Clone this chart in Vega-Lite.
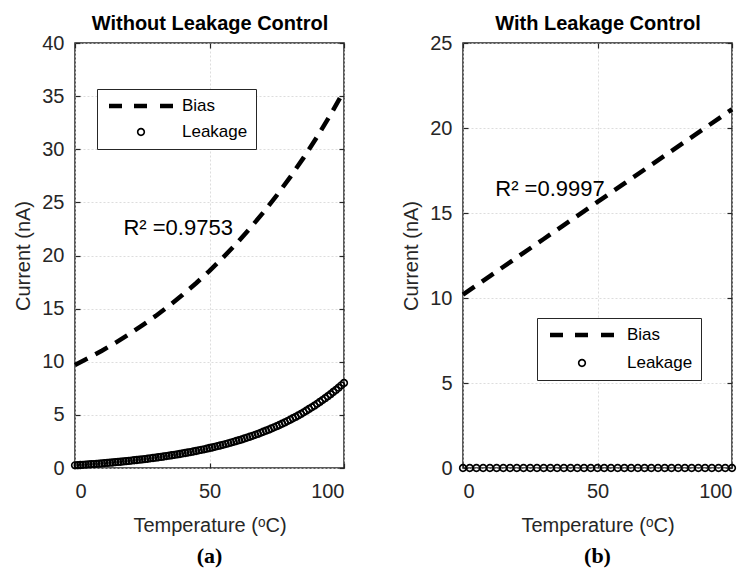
{
  "$schema": "https://vega.github.io/schema/vega-lite/v6.json",
  "background": "white",
  "padding": {"left": 13, "top": 12, "right": 2, "bottom": 3},
  "config": {
    "font": "Liberation Sans",
    "view": {"stroke": "#262626", "strokeWidth": 1.5},
    "axis": {
      "domain": false,
      "tickColor": "#262626",
      "tickSize": -5,
      "tickWidth": 1.2,
      "labelFont": "Liberation Sans",
      "labelFontSize": 20,
      "labelColor": "#262626",
      "titleFont": "Liberation Sans",
      "titleFontSize": 20,
      "titleFontWeight": "normal",
      "titleColor": "#262626",
      "gridColor": "#d4d4d4",
      "gridDash": [2, 2],
      "gridWidth": 0.8
    }
  },
  "datasets": {
    "leftBias": [
      {"t": 0, "c": 9.70, "s": "Bias"}, {"t": 5, "c": 10.35, "s": "Bias"}, {"t": 10, "c": 11.04, "s": "Bias"},
      {"t": 15, "c": 11.78, "s": "Bias"}, {"t": 20, "c": 12.57, "s": "Bias"}, {"t": 25, "c": 13.42, "s": "Bias"},
      {"t": 30, "c": 14.31, "s": "Bias"}, {"t": 35, "c": 15.27, "s": "Bias"}, {"t": 40, "c": 16.30, "s": "Bias"},
      {"t": 45, "c": 17.39, "s": "Bias"}, {"t": 50, "c": 18.55, "s": "Bias"}, {"t": 55, "c": 19.80, "s": "Bias"},
      {"t": 60, "c": 21.12, "s": "Bias"}, {"t": 65, "c": 22.54, "s": "Bias"}, {"t": 70, "c": 24.05, "s": "Bias"},
      {"t": 75, "c": 25.66, "s": "Bias"}, {"t": 80, "c": 27.38, "s": "Bias"}, {"t": 85, "c": 29.21, "s": "Bias"},
      {"t": 90, "c": 31.17, "s": "Bias"}, {"t": 95, "c": 33.26, "s": "Bias"}, {"t": 100, "c": 35.49, "s": "Bias"}
    ],
    "leftLeak": [
      {"t": 0, "c": 0.25, "s": "Leakage"}, {"t": 1, "c": 0.27, "s": "Leakage"}, {"t": 2, "c": 0.28, "s": "Leakage"},
      {"t": 3, "c": 0.30, "s": "Leakage"}, {"t": 4, "c": 0.32, "s": "Leakage"}, {"t": 5, "c": 0.34, "s": "Leakage"},
      {"t": 6, "c": 0.36, "s": "Leakage"}, {"t": 7, "c": 0.37, "s": "Leakage"}, {"t": 8, "c": 0.39, "s": "Leakage"},
      {"t": 9, "c": 0.41, "s": "Leakage"}, {"t": 10, "c": 0.43, "s": "Leakage"}, {"t": 11, "c": 0.46, "s": "Leakage"},
      {"t": 12, "c": 0.48, "s": "Leakage"}, {"t": 13, "c": 0.50, "s": "Leakage"}, {"t": 14, "c": 0.52, "s": "Leakage"},
      {"t": 15, "c": 0.55, "s": "Leakage"}, {"t": 16, "c": 0.57, "s": "Leakage"}, {"t": 17, "c": 0.59, "s": "Leakage"},
      {"t": 18, "c": 0.62, "s": "Leakage"}, {"t": 19, "c": 0.64, "s": "Leakage"}, {"t": 20, "c": 0.67, "s": "Leakage"},
      {"t": 21, "c": 0.70, "s": "Leakage"}, {"t": 22, "c": 0.73, "s": "Leakage"}, {"t": 23, "c": 0.75, "s": "Leakage"},
      {"t": 24, "c": 0.78, "s": "Leakage"}, {"t": 25, "c": 0.81, "s": "Leakage"}, {"t": 26, "c": 0.84, "s": "Leakage"},
      {"t": 27, "c": 0.87, "s": "Leakage"}, {"t": 28, "c": 0.91, "s": "Leakage"}, {"t": 29, "c": 0.94, "s": "Leakage"},
      {"t": 30, "c": 0.97, "s": "Leakage"}, {"t": 31, "c": 1.01, "s": "Leakage"}, {"t": 32, "c": 1.04, "s": "Leakage"},
      {"t": 33, "c": 1.08, "s": "Leakage"}, {"t": 34, "c": 1.12, "s": "Leakage"}, {"t": 35, "c": 1.16, "s": "Leakage"},
      {"t": 36, "c": 1.20, "s": "Leakage"}, {"t": 37, "c": 1.24, "s": "Leakage"}, {"t": 38, "c": 1.28, "s": "Leakage"},
      {"t": 39, "c": 1.32, "s": "Leakage"}, {"t": 40, "c": 1.37, "s": "Leakage"}, {"t": 41, "c": 1.41, "s": "Leakage"},
      {"t": 42, "c": 1.46, "s": "Leakage"}, {"t": 43, "c": 1.50, "s": "Leakage"}, {"t": 44, "c": 1.55, "s": "Leakage"},
      {"t": 45, "c": 1.60, "s": "Leakage"}, {"t": 46, "c": 1.66, "s": "Leakage"}, {"t": 47, "c": 1.71, "s": "Leakage"},
      {"t": 48, "c": 1.76, "s": "Leakage"}, {"t": 49, "c": 1.82, "s": "Leakage"}, {"t": 50, "c": 1.88, "s": "Leakage"},
      {"t": 51, "c": 1.93, "s": "Leakage"}, {"t": 52, "c": 1.99, "s": "Leakage"}, {"t": 53, "c": 2.06, "s": "Leakage"},
      {"t": 54, "c": 2.12, "s": "Leakage"}, {"t": 55, "c": 2.18, "s": "Leakage"}, {"t": 56, "c": 2.25, "s": "Leakage"},
      {"t": 57, "c": 2.32, "s": "Leakage"}, {"t": 58, "c": 2.39, "s": "Leakage"}, {"t": 59, "c": 2.46, "s": "Leakage"},
      {"t": 60, "c": 2.54, "s": "Leakage"}, {"t": 61, "c": 2.62, "s": "Leakage"}, {"t": 62, "c": 2.69, "s": "Leakage"},
      {"t": 63, "c": 2.78, "s": "Leakage"}, {"t": 64, "c": 2.86, "s": "Leakage"}, {"t": 65, "c": 2.94, "s": "Leakage"},
      {"t": 66, "c": 3.03, "s": "Leakage"}, {"t": 67, "c": 3.12, "s": "Leakage"}, {"t": 68, "c": 3.21, "s": "Leakage"},
      {"t": 69, "c": 3.31, "s": "Leakage"}, {"t": 70, "c": 3.41, "s": "Leakage"}, {"t": 71, "c": 3.51, "s": "Leakage"},
      {"t": 72, "c": 3.61, "s": "Leakage"}, {"t": 73, "c": 3.72, "s": "Leakage"}, {"t": 74, "c": 3.83, "s": "Leakage"},
      {"t": 75, "c": 3.94, "s": "Leakage"}, {"t": 76, "c": 4.05, "s": "Leakage"}, {"t": 77, "c": 4.17, "s": "Leakage"},
      {"t": 78, "c": 4.29, "s": "Leakage"}, {"t": 79, "c": 4.42, "s": "Leakage"}, {"t": 80, "c": 4.54, "s": "Leakage"},
      {"t": 81, "c": 4.68, "s": "Leakage"}, {"t": 82, "c": 4.81, "s": "Leakage"}, {"t": 83, "c": 4.95, "s": "Leakage"},
      {"t": 84, "c": 5.09, "s": "Leakage"}, {"t": 85, "c": 5.24, "s": "Leakage"}, {"t": 86, "c": 5.39, "s": "Leakage"},
      {"t": 87, "c": 5.55, "s": "Leakage"}, {"t": 88, "c": 5.71, "s": "Leakage"}, {"t": 89, "c": 5.87, "s": "Leakage"},
      {"t": 90, "c": 6.04, "s": "Leakage"}, {"t": 91, "c": 6.21, "s": "Leakage"}, {"t": 92, "c": 6.39, "s": "Leakage"},
      {"t": 93, "c": 6.57, "s": "Leakage"}, {"t": 94, "c": 6.76, "s": "Leakage"}, {"t": 95, "c": 6.95, "s": "Leakage"},
      {"t": 96, "c": 7.15, "s": "Leakage"}, {"t": 97, "c": 7.35, "s": "Leakage"}, {"t": 98, "c": 7.56, "s": "Leakage"},
      {"t": 99, "c": 7.78, "s": "Leakage"}, {"t": 100, "c": 8.00, "s": "Leakage"}
    ],
    "rightBias": [
      {"t": 0, "c": 10.20, "s": "Bias"}, {"t": 10, "c": 11.29, "s": "Bias"}, {"t": 20, "c": 12.38, "s": "Bias"},
      {"t": 30, "c": 13.47, "s": "Bias"}, {"t": 40, "c": 14.56, "s": "Bias"}, {"t": 50, "c": 15.65, "s": "Bias"},
      {"t": 60, "c": 16.74, "s": "Bias"}, {"t": 70, "c": 17.83, "s": "Bias"}, {"t": 80, "c": 18.92, "s": "Bias"},
      {"t": 90, "c": 20.01, "s": "Bias"}, {"t": 100, "c": 21.10, "s": "Bias"}
    ],
    "rightLeak": [
      {"t": 0, "c": 0, "s": "Leakage"}, {"t": 2.5, "c": 0, "s": "Leakage"}, {"t": 5, "c": 0, "s": "Leakage"},
      {"t": 7.5, "c": 0, "s": "Leakage"}, {"t": 10, "c": 0, "s": "Leakage"}, {"t": 12.5, "c": 0, "s": "Leakage"},
      {"t": 15, "c": 0, "s": "Leakage"}, {"t": 17.5, "c": 0, "s": "Leakage"}, {"t": 20, "c": 0, "s": "Leakage"},
      {"t": 22.5, "c": 0, "s": "Leakage"}, {"t": 25, "c": 0, "s": "Leakage"}, {"t": 27.5, "c": 0, "s": "Leakage"},
      {"t": 30, "c": 0, "s": "Leakage"}, {"t": 32.5, "c": 0, "s": "Leakage"}, {"t": 35, "c": 0, "s": "Leakage"},
      {"t": 37.5, "c": 0, "s": "Leakage"}, {"t": 40, "c": 0, "s": "Leakage"}, {"t": 42.5, "c": 0, "s": "Leakage"},
      {"t": 45, "c": 0, "s": "Leakage"}, {"t": 47.5, "c": 0, "s": "Leakage"}, {"t": 50, "c": 0, "s": "Leakage"},
      {"t": 52.5, "c": 0, "s": "Leakage"}, {"t": 55, "c": 0, "s": "Leakage"}, {"t": 57.5, "c": 0, "s": "Leakage"},
      {"t": 60, "c": 0, "s": "Leakage"}, {"t": 62.5, "c": 0, "s": "Leakage"}, {"t": 65, "c": 0, "s": "Leakage"},
      {"t": 67.5, "c": 0, "s": "Leakage"}, {"t": 70, "c": 0, "s": "Leakage"}, {"t": 72.5, "c": 0, "s": "Leakage"},
      {"t": 75, "c": 0, "s": "Leakage"}, {"t": 77.5, "c": 0, "s": "Leakage"}, {"t": 80, "c": 0, "s": "Leakage"},
      {"t": 82.5, "c": 0, "s": "Leakage"}, {"t": 85, "c": 0, "s": "Leakage"}, {"t": 87.5, "c": 0, "s": "Leakage"},
      {"t": 90, "c": 0, "s": "Leakage"}, {"t": 92.5, "c": 0, "s": "Leakage"}, {"t": 95, "c": 0, "s": "Leakage"},
      {"t": 97.5, "c": 0, "s": "Leakage"}, {"t": 100, "c": 0, "s": "Leakage"}
    ],
    "leftNote": [{"t": 18, "c": 21.9, "label": "R² =0.9753"}],
    "rightNote": [{"t": 12, "c": 16.0, "label": "R² =0.9997"}]
  },
  "resolve": {"scale": {"shape": "independent"}, "legend": {"shape": "independent"}},
  "spacing": 47,
  "hconcat": [
    {
      "title": {"text": "(a)", "orient": "bottom", "font": "Liberation Serif", "fontSize": 22, "fontWeight": "bold", "color": "black", "offset": 11, "anchor": "middle", "frame": "group"},
      "width": 269,
      "height": 425,
      "resolve": {"axis": {"x": "independent", "y": "independent"}},
      "layer": [
        {
          "data": {"name": "leftBias"},
          "mark": {"type": "line", "color": "black", "strokeWidth": 4.5, "strokeDash": [14, 9], "strokeCap": "butt"},
          "encoding": {
            "x": {"field": "t", "type": "quantitative", "scale": {"domain": [0, 100], "nice": false},
                  "axis": {"orient": "bottom", "values": [0, 50, 100], "title": "Temperature (ᵒC)", "labelPadding": 18, "titlePadding": 14, "grid": true}},
            "y": {"field": "c", "type": "quantitative", "scale": {"domain": [0, 40], "nice": false},
                  "axis": {"orient": "left", "values": [0, 5, 10, 15, 20, 25, 30, 35, 40], "title": "Current (nA)", "labelPadding": 16, "titlePadding": 8, "grid": true}}
          }
        },
        {
          "data": {"name": "leftLeak"},
          "mark": {"type": "point", "filled": true, "color": "black", "size": 4096, "strokeWidth": 0, "opacity": 1},
          "encoding": {
            "x": {"field": "t", "type": "quantitative", "axis": null},
            "y": {"field": "c", "type": "quantitative", "axis": null},
            "shape": {"field": "s", "type": "nominal",
              "scale": {"domain": ["Bias", "Leakage"], "range": [
                "M-1,-0.07H-0.594V0.07H-1Z M-0.219,-0.07H0.188V0.07H-0.219Z M0.594,-0.07H1V0.07H0.594Z",
                "M0.13,0A0.13,0.13 0 1,1 -0.13,0A0.13,0.13 0 1,1 0.13,0Z M0.078,0A0.078,0.078 0 1,0 -0.078,0A0.078,0.078 0 1,0 0.078,0Z"
              ]},
              "legend": {"orient": "none", "legendX": 22, "legendY": 46, "title": null,
                "symbolSize": 4096, "symbolFillColor": "black", "symbolStrokeColor": "transparent", "symbolStrokeWidth": 0,
                "symbolOffset": 4,
                "labelFont": "Liberation Sans", "labelFontSize": 17, "labelColor": "black", "labelOffset": 9,
                "clipHeight": 18, "rowPadding": 8, "padding": 8, "strokeColor": "#262626", "fillColor": "white"}
            }
          }
        },
        {
          "data": {"name": "leftNote"},
          "mark": {"type": "text", "align": "left", "baseline": "alphabetic", "fontSize": 22, "color": "black", "font": "Liberation Sans"},
          "encoding": {
            "x": {"field": "t", "type": "quantitative",
                  "axis": {"orient": "top", "labels": false, "grid": false, "values": [0, 50, 100], "title": "Without Leakage Control", "titleFontWeight": "bold", "titleColor": "black", "titlePadding": 9}},
            "y": {"field": "c", "type": "quantitative",
                  "axis": {"orient": "right", "labels": false, "grid": false, "values": [0, 5, 10, 15, 20, 25, 30, 35, 40], "title": null}},
            "text": {"field": "label"}
          }
        }
      ]
    },
    {
      "title": {"text": "(b)", "orient": "bottom", "font": "Liberation Serif", "fontSize": 22, "fontWeight": "bold", "color": "black", "offset": 11, "anchor": "middle", "frame": "group"},
      "width": 269,
      "height": 425,
      "resolve": {"axis": {"x": "independent", "y": "independent"}},
      "layer": [
        {
          "data": {"name": "rightBias"},
          "mark": {"type": "line", "color": "black", "strokeWidth": 4.5, "strokeDash": [14, 9], "strokeCap": "butt"},
          "encoding": {
            "x": {"field": "t", "type": "quantitative", "scale": {"domain": [0, 100], "nice": false},
                  "axis": {"orient": "bottom", "values": [0, 50, 100], "title": "Temperature (ᵒC)", "labelPadding": 18, "titlePadding": 14, "grid": true}},
            "y": {"field": "c", "type": "quantitative", "scale": {"domain": [0, 25], "nice": false},
                  "axis": {"orient": "left", "values": [0, 5, 10, 15, 20, 25], "title": "Current (nA)", "labelPadding": 16, "titlePadding": 8, "grid": true}}
          }
        },
        {
          "data": {"name": "rightLeak"},
          "mark": {"type": "point", "filled": true, "color": "black", "size": 4096, "strokeWidth": 0, "opacity": 1},
          "encoding": {
            "x": {"field": "t", "type": "quantitative", "axis": null},
            "y": {"field": "c", "type": "quantitative", "axis": null},
            "shape": {"field": "s", "type": "nominal",
              "scale": {"domain": ["Bias", "Leakage"], "range": [
                "M-1,-0.07H-0.594V0.07H-1Z M-0.219,-0.07H0.188V0.07H-0.219Z M0.594,-0.07H1V0.07H0.594Z",
                "M0.13,0A0.13,0.13 0 1,1 -0.13,0A0.13,0.13 0 1,1 0.13,0Z M0.078,0A0.078,0.078 0 1,0 -0.078,0A0.078,0.078 0 1,0 0.078,0Z"
              ]},
              "legend": {"orient": "none", "legendX": 74, "legendY": 275, "title": null,
                "symbolSize": 4096, "symbolFillColor": "black", "symbolStrokeColor": "transparent", "symbolStrokeWidth": 0,
                "symbolOffset": 5,
                "labelFont": "Liberation Sans", "labelFontSize": 17, "labelColor": "black", "labelOffset": 13,
                "clipHeight": 18, "rowPadding": 10, "padding": 8, "strokeColor": "#262626", "fillColor": "white"}
            }
          }
        },
        {
          "data": {"name": "rightNote"},
          "mark": {"type": "text", "align": "left", "baseline": "alphabetic", "fontSize": 22, "color": "black", "font": "Liberation Sans"},
          "encoding": {
            "x": {"field": "t", "type": "quantitative",
                  "axis": {"orient": "top", "labels": false, "grid": false, "values": [0, 50, 100], "title": "With Leakage Control", "titleFontWeight": "bold", "titleColor": "black", "titlePadding": 9}},
            "y": {"field": "c", "type": "quantitative",
                  "axis": {"orient": "right", "labels": false, "grid": false, "values": [0, 5, 10, 15, 20, 25], "title": null}},
            "text": {"field": "label"}
          }
        }
      ]
    }
  ]
}
